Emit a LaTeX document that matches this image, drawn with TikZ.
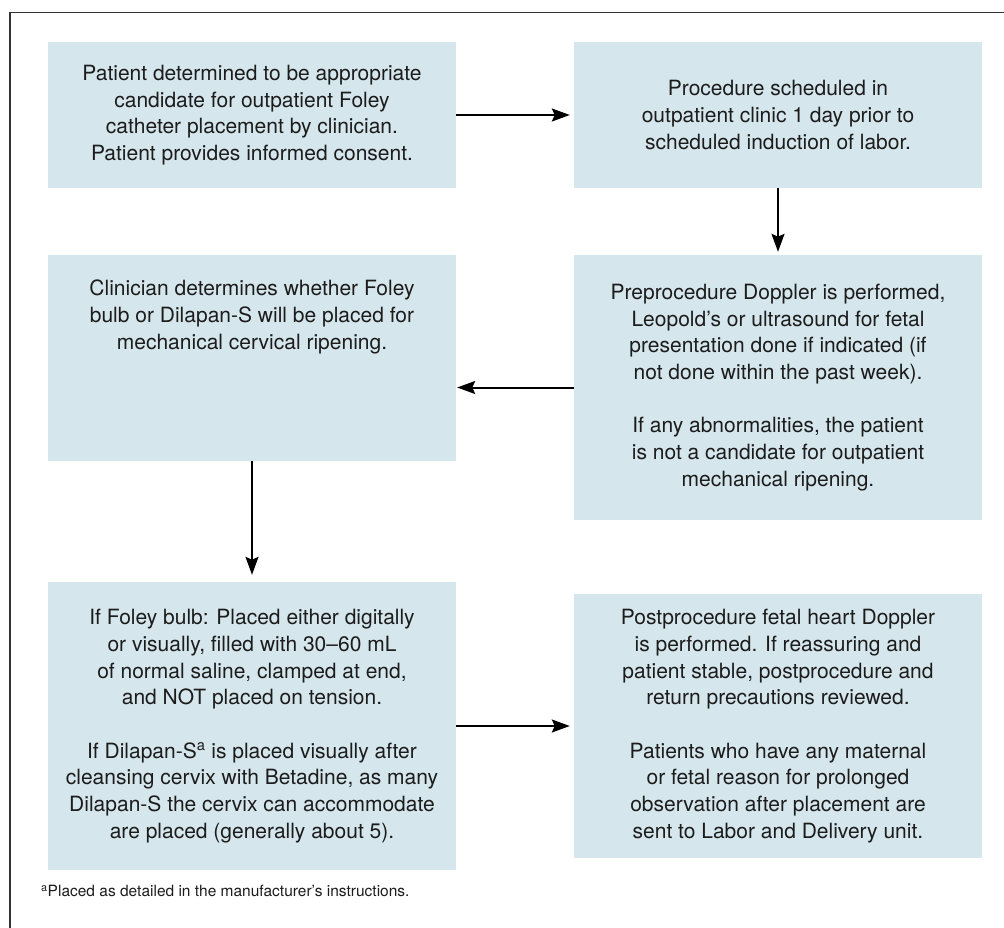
\documentclass[tikz,border=0pt]{standalone}
\usepackage{fontspec}
\setmainfont{TeX Gyre Heros}
\usetikzlibrary{arrows.meta}
\definecolor{boxfill}{RGB}{213,230,236}
\definecolor{txt}{RGB}{28,28,28}
\definecolor{framec}{RGB}{50,50,50}
\begin{document}
\begin{tikzpicture}[x=1pt,y=-1pt,
  boxtext/.style={inner sep=0pt, align=center, text=txt, font=\fontsize{21}{26.7}\selectfont},
  box/.style={boxtext, fill=boxfill, draw=none, minimum width=408pt},
  conn/.style={line width=2pt, -{Stealth[length=18pt,width=13pt,inset=3pt]}}]
\useasboundingbox (0,0) rectangle (1004,928);
\draw[line width=1.2pt, framec] (10,928) -- (10,12.5) -- (1004,12.5);

\node[box, minimum height=146pt] (b1) at (252,115) {Patient determined to be appropriate\\candidate for outpatient Foley\\catheter placement by clinician.\\Patient provides informed consent.};
\node[box, minimum height=146pt] (b2) at (778,115) {Procedure scheduled in\\outpatient clinic 1 day prior to\\scheduled induction of labor.};
\node[box, minimum height=265pt] (b3) at (778,387.5) {Preprocedure Doppler is performed,\\Leopold’s or ultrasound for fetal\\presentation done if indicated (if\\not done within the past week).\\[26.7pt]If any abnormalities, the patient\\is not a candidate for outpatient\\mechanical ripening.};
\node[box, minimum height=206pt] (b4) at (252,358) {};
\node[boxtext, anchor=north] (t4) at ([yshift=-25pt]b4.north) {Clinician determines whether Foley\\bulb or Dilapan-S will be placed for\\mechanical cervical ripening.};
\node[box, minimum height=288pt] (b5) at (252,726) {If Foley bulb: Placed either digitally\\or visually, filled with 30–60 mL\\of normal saline, clamped at end,\\and NOT placed on tension.\\[26.7pt]If Dilapan-S\textsuperscript{a} is placed visually after\\cleansing cervix with Betadine, as many\\Dilapan-S the cervix can accommodate\\are placed (generally about 5).};
\node[box, minimum height=264pt] (b6) at (778,726) {Postprocedure fetal heart Doppler\\is performed. If reassuring and\\patient stable, postprocedure and\\return precautions reviewed.\\[26.7pt]Patients who have any maternal\\or fetal reason for prolonged\\observation after placement are\\sent to Labor and Delivery unit.};

\node[anchor=west, inner sep=0pt, text=txt, font=\fontsize{15.5}{18}\selectfont] (fn) at (41,891) {\textsuperscript{a}Placed as detailed in the manufacturer’s instructions.};

\draw[conn, shorten >=4pt] (b1.east) -- (b2.west);
\draw[conn, shorten >=3pt] (b2.south) -- (b3.north);
\draw[conn, shorten >=1pt] (b3.west) -- (b3.west -| b4.east);
\draw[conn, shorten >=7pt] (b4.south) -- (b5.north);
\draw[conn, shorten >=4pt] (b5.east) -- (b6.west);
\end{tikzpicture}
\end{document}
